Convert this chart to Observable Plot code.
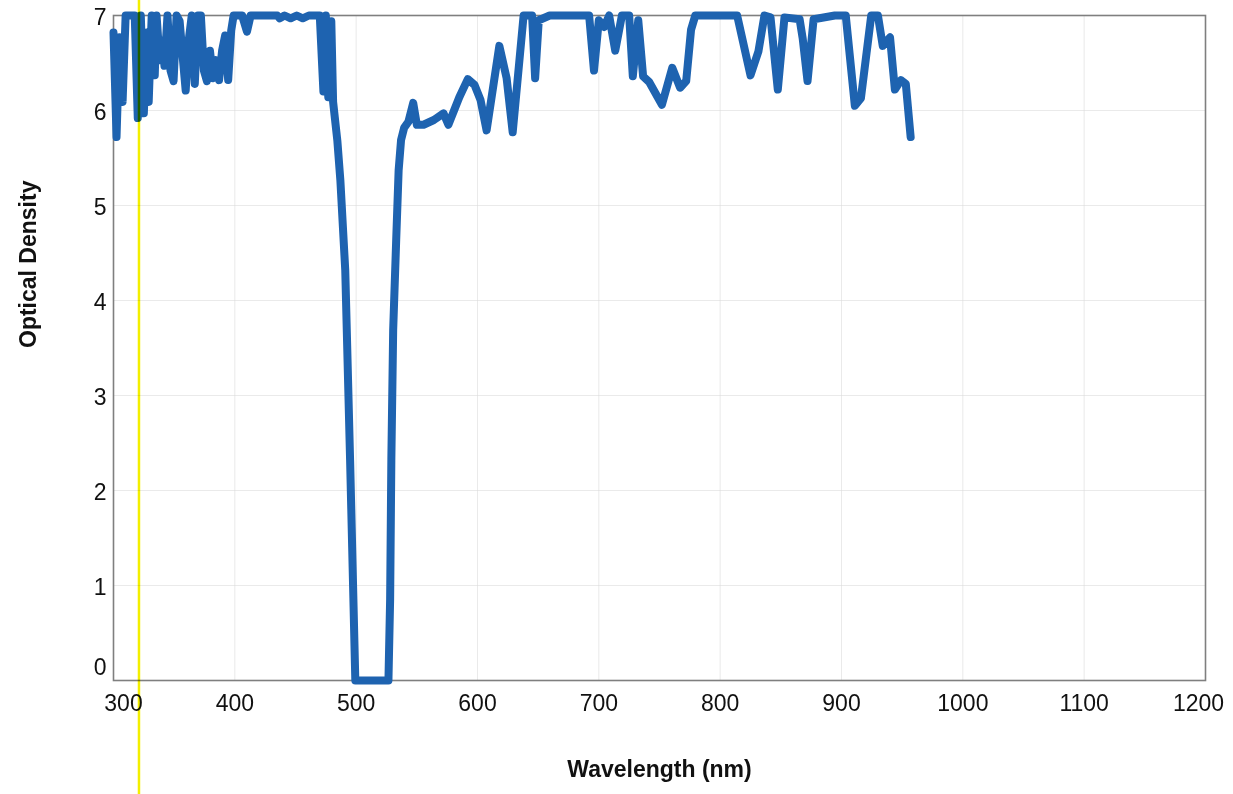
<!DOCTYPE html>
<html>
<head>
<meta charset="utf-8">
<script src="https://cdn.jsdelivr.net/npm/d3@7"></script>
<script src="https://cdn.jsdelivr.net/npm/@observablehq/plot@0.6"></script>
<style>
  html, body { margin: 0; padding: 0; background: #fff; }
  #chart { width: 1233px; height: 794px; }
</style>
</head>
<body>
<div id="chart"></div>
<script>
// Wavelength (nm) of each point
const wavelengths = [300, 302.5, 305, 307.5, 310, 314, 317.5, 320, 322.5, 325, 327.5, 329, 331.5, 334, 335.5, 338, 340.5, 342, 344.5, 347, 349.5, 352, 354.5, 357, 359.5, 362, 364.5, 367, 369.5, 372, 374.5, 377, 379.5, 382, 384.5, 387, 389.5, 392, 394.5, 397, 399, 406, 410, 413, 435, 437, 441, 446, 451, 456, 461, 470, 473, 475, 477, 479.5, 481, 484.5, 487, 491, 495, 499.3, 526.6, 528, 529, 530.5, 533, 535, 537, 539.6, 543, 547, 550, 555.5, 564, 572, 576, 585, 592, 597.5, 602.5, 607.5, 618, 624, 629, 638, 645, 647.5, 650.5, 659.5, 667, 692, 696, 700, 704.5, 708.5, 713.5, 719, 725, 728, 732.5, 736.5, 741.5, 752, 760.5, 767, 772, 776, 779.5, 814, 825, 831.5, 836.5, 841.5, 847.5, 853, 865.5, 868, 872, 877, 894.5, 903.5, 911, 916, 924.5, 930, 934, 940, 944, 949, 953, 957];
// Optical density at each wavelength
const opticalDensity = [6.82, 5.72, 6.77, 6.09, 7, 7, 7, 5.92, 7, 5.97, 6.82, 6.09, 7, 6.37, 7, 6.53, 6.74, 6.47, 7, 6.42, 6.31, 7, 6.94, 6.57, 6.21, 6.74, 7, 6.28, 7, 7, 6.42, 6.31, 6.63, 6.34, 6.53, 6.32, 6.63, 6.79, 6.32, 6.84, 7, 7, 6.83, 7, 7, 6.97, 7, 6.97, 7, 6.97, 7, 7, 6.2, 7, 6.14, 6.94, 6.09, 5.68, 5.26, 4.32, 2.32, 0, 0, 0.86, 2.33, 3.69, 4.64, 5.37, 5.69, 5.82, 5.88, 6.08, 5.85, 5.85, 5.9, 5.97, 5.85, 6.14, 6.33, 6.27, 6.11, 5.79, 6.68, 6.34, 5.77, 7, 7, 6.34, 6.95, 7, 7, 7, 6.42, 6.95, 6.88, 7, 6.63, 7, 7, 6.36, 6.95, 6.36, 6.3, 6.06, 6.45, 6.24, 6.31, 6.85, 7, 7, 6.37, 6.62, 7, 6.98, 6.22, 6.98, 6.96, 6.76, 6.31, 6.96, 7, 7, 6.05, 6.13, 7, 7, 6.68, 6.77, 6.22, 6.32, 6.28, 5.72];

const xTicks = [300, 400, 500, 600, 700, 800, 900, 1000, 1100, 1200];
const yTicks = [0, 1, 2, 3, 4, 5, 6, 7];
const highlighterNm = [321];   // hand-drawn yellow highlighter mark
const xTitle = ["Wavelength (nm)"];
const yTitle = ["Optical Density"];

const data = wavelengths.map((w, i) => ({w, d: opticalDensity[i]}));
const plain = d => String(d);
const xFirst = xTicks.slice(0, 1);
const xMiddle = xTicks.slice(1, -1);
const xLast = xTicks.slice(-1);
const yFirst = yTicks.slice(0, 1);
const yRest = yTicks.slice(1);
const axisX = (ticks, dx) => Plot.axisX({ticks, tickFormat: plain, tickSize: 0, tickPadding: 14, label: null, fontSize: 23, dx});
const axisY = (ticks, dy) => Plot.axisY({ticks, tickFormat: plain, tickSize: 0, tickPadding: 7, label: null, fontSize: 23, dy});

const chart = Plot.plot({
  width: 1233,
  height: 794,
  marginLeft: 113,
  marginRight: 28,
  marginTop: 15,
  marginBottom: 114,
  style: {fontFamily: "'Liberation Sans', Arial, sans-serif", fontSize: "23px", color: "#111", background: "#fff", overflow: "visible"},
  x: {domain: [300, 1200]},
  y: {domain: [0, 7]},
  marks: [
    Plot.gridX({ticks: xTicks, stroke: "#d8d8d8", strokeOpacity: 0.55}),
    Plot.gridY({ticks: yTicks, stroke: "#d8d8d8", strokeOpacity: 0.55}),
    Plot.frame({stroke: "#7f7f7f", strokeWidth: 1.6}),
    axisX(xFirst, 10),
    axisX(xMiddle, 0),
    axisX(xLast, -7),
    axisY(yFirst, -13),
    axisY(yRest, 2),
    Plot.line(data, {x: "w", y: "d", stroke: "#1e63b0", strokeWidth: 8, strokeLinejoin: "round", strokeLinecap: "round"}),
    Plot.ruleX(highlighterNm, {x: d => d, y1: -2, y2: 8, stroke: "#f3ef00", strokeWidth: 2.5, mixBlendMode: "multiply"}),
    Plot.text(xTitle, {text: d => d, frameAnchor: "bottom", dy: 96, fontWeight: "bold", fontSize: 23}),
    Plot.text(yTitle, {text: d => d, frameAnchor: "left", dx: -85, rotate: -90, fontWeight: "bold", fontSize: 23})
  ]
});

document.getElementById("chart").appendChild(chart);
</script>
</body>
</html>
